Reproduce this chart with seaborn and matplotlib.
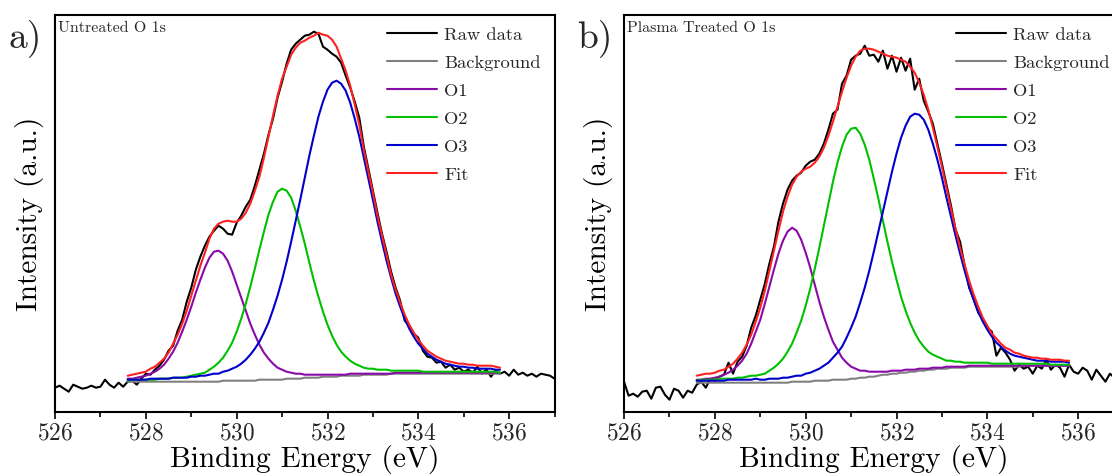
import numpy as np
import matplotlib
matplotlib.use('Agg')
import matplotlib.pyplot as plt
import seaborn as sns

# O 1s XPS spectra, intensity in arbitrary units
energy_raw = np.round(np.arange(526.0, 537.05, 0.1), 1)
energy_fit = np.round(np.arange(527.6, 535.85, 0.1), 1)

# a) untreated
raw_a = [24, 26, 23, 20, 27, 25, 23, 24, 26, 24, 25, 32, 27, 24, 29, 25,
         30, 31, 27, 33, 38, 37, 42, 46, 52, 61, 66, 81, 92, 110, 124, 142, 155, 166, 175, 181,
         186, 183, 178, 177, 189, 196, 205, 212, 226, 242, 258, 277, 293, 314, 330, 348, 362, 368, 372, 376,
         377, 380, 378, 365, 362, 358, 355, 349, 336, 324, 310, 294, 265, 243, 221, 199, 178, 160, 140,
         124, 111, 91, 86, 78, 74, 61, 55, 54, 49, 50, 44, 47, 42, 44, 40, 42, 39, 45, 38, 42, 35, 41, 38,
         40, 36, 42, 37, 39, 36, 38, 35, 38, 37, 36, 33]
bg_a = [30, 30, 30, 30, 30, 30, 30, 30, 30, 30, 30, 30, 30, 30, 30, 30, 30, 30, 30, 30, 30,
        31, 31, 31, 31, 31, 31, 31, 31, 32, 32, 32, 32, 32, 32, 33, 33, 33, 33, 34, 34, 34, 34,
        35, 35, 35, 35, 36, 36, 36, 36, 36, 37, 37, 37, 37, 37, 37,
        38, 38, 38, 38, 38, 38, 38, 38, 38, 38, 38, 38, 38, 38, 38, 38, 38, 38, 38, 38, 38, 38, 38, 38, 38]
o1_a = [33, 33, 34, 35, 36, 38, 40, 43, 47, 53, 60, 69, 80, 92, 105, 119, 132, 144, 154, 160,
        161, 158, 151, 140, 127, 114, 101, 88, 77, 67, 59, 53, 48, 44, 42, 40, 39, 38, 38, 37,
        37, 37, 37, 37, 37, 37, 37, 37, 37, 38, 38, 38, 38, 38, 38, 38, 38, 38, 38, 39,
        39, 39, 39, 39, 39, 39, 39, 39, 39, 39, 39, 39, 39, 39, 39, 39, 39, 39, 39, 39, 39, 39, 39]
o2_a = [31, 32, 32, 32, 32, 32, 32, 33, 33, 33, 34, 34, 34, 35, 36, 37, 38, 39, 42, 45,
        49, 54, 61, 69, 80, 93, 108, 125, 143, 162, 180, 197, 210, 220, 223, 221, 214, 201, 185, 168,
        149, 131, 115, 100, 87, 76, 67, 60, 55, 51, 48, 46, 44, 43, 43, 42, 42, 42, 41, 41,
        41, 41, 41, 41, 41, 40, 40, 40, 40, 40, 40, 40, 40, 40, 40, 40, 40, 40, 40, 40, 40, 40, 39]
o3_a = [32, 32, 32, 32, 32, 33, 33, 33, 33, 33, 34, 34, 34, 34, 35, 35, 36, 36, 37, 38,
        38, 40, 41, 43, 45, 48, 52, 57, 63, 70, 79, 89, 102, 116, 132, 150, 170, 191, 212, 234,
        256, 276, 295, 310, 322, 329, 331, 328, 321, 309, 293, 275, 254, 233, 212, 190, 170, 151, 134, 118,
        105, 93, 83, 75, 68, 63, 58, 55, 52, 50, 48, 47, 46, 45, 45, 44, 44, 43, 43, 43, 43, 42, 42]
fit_a = [36, 37, 38, 39, 40, 43, 45, 49, 53, 59, 68, 77, 88, 101, 116, 131, 146, 159, 173, 183,
         188, 190, 191, 190, 190, 193, 199, 208, 221, 235, 254, 275, 296, 316, 333, 345, 357, 364, 369, 371,
         374, 376, 379, 377, 376, 372, 365, 353, 341, 326, 307, 287, 262, 240, 219, 196, 176, 157, 137, 122,
         109, 97, 87, 79, 72, 66, 61, 58, 55, 53, 51, 50, 49, 48, 48, 47, 47, 46, 46, 46, 46, 45, 44]

# b) plasma treated
raw_b = [30, 16, 18, 15, 20, 21, 13, 24, 25, 17, 12, 23, 21, 14, 21, 19,
         27, 30, 24, 33, 31, 35, 37, 49, 38, 50, 55, 66, 84, 96, 112, 128, 148, 165, 190, 208,
         222, 231, 236, 239, 246, 250, 252, 258, 268, 282, 298, 302, 328, 336, 352, 356, 358, 366, 356, 357,
         350, 361, 343, 356, 340, 354, 341, 353, 322, 333, 311, 300, 288, 268, 248, 227, 206,
         182, 170, 146, 124, 112, 99, 92, 84, 80, 56, 64, 59, 52, 41, 47, 43, 45, 38, 46, 43, 52, 42, 47, 44, 35, 47,
         40, 38, 44, 41, 32, 42, 36, 30, 38, 34, 36, 32]
bg_b = [29, 29, 29, 29, 29, 29, 29, 29, 29, 29, 29, 29, 29, 29, 29, 29, 29, 29, 29, 29, 29,
        30, 30, 30, 30, 30, 31, 31, 31, 31, 32, 32, 32, 32, 33, 33, 34, 34, 35, 35,
        36, 37, 37, 38, 38, 39, 39, 40, 40, 41, 41, 42, 42, 43, 43, 43, 44, 44, 44, 44,
        45, 45, 45, 45, 45, 45, 45, 45, 45, 45, 45, 45, 46, 46, 46, 46, 46, 46, 46, 46, 46, 46, 46]
o1_b = [32, 32, 33, 33, 34, 35, 37, 39, 42, 46, 51, 58, 68, 80, 92, 108, 125, 142, 158, 171,
        180, 184, 181, 172, 159, 144, 127, 110, 95, 82, 70, 62, 54, 49, 45, 43, 41, 41, 40, 40,
        40, 40, 40, 41, 41, 41, 42, 42, 42, 43, 43, 43, 44, 44, 44, 45, 45, 45, 45, 45,
        46, 46, 46, 46, 46, 46, 46, 46, 46, 46, 46, 46, 46, 46, 46, 46, 46, 46, 46, 46, 46, 46, 46]
o2_b = [31, 32, 32, 32, 32, 33, 33, 33, 33, 34, 34, 35, 36, 36, 37, 38, 41, 44, 48, 53,
        60, 68, 79, 91, 106, 123, 143, 164, 186, 208, 230, 249, 265, 277, 283, 284, 278, 267, 252, 233,
        213, 191, 170, 150, 132, 115, 101, 89, 79, 71, 65, 60, 57, 55, 53, 51, 51, 50, 50, 49,
        49, 49, 49, 49, 49, 48, 48, 48, 48, 48, 48, 48, 48, 48, 48, 48, 48, 48, 47, 47, 47, 47, 47]
o3_b = [31, 31, 31, 31, 31, 31, 31, 32, 32, 32, 32, 32, 32, 33, 32, 32, 33, 33, 33, 34,
        34, 35, 36, 36, 38, 39, 41, 43, 46, 49, 54, 59, 65, 74, 84, 95, 109, 124, 141, 160,
        180, 200, 220, 240, 258, 274, 286, 295, 298, 297, 292, 282, 268, 252, 234, 214, 195, 176, 158, 141,
        125, 112, 100, 90, 82, 75, 69, 65, 61, 58, 56, 55, 54, 53, 52, 51, 51, 51, 50, 50, 50, 50, 49]
fit_b = [36, 37, 38, 38, 39, 41, 42, 45, 48, 53, 59, 67, 77, 90, 104, 121, 141, 161, 181, 200,
         215, 227, 235, 240, 243, 245, 249, 255, 264, 276, 290, 305, 320, 334, 346, 355, 361, 363, 363, 362,
         360, 358, 356, 355, 354, 352, 350, 345, 339, 329, 317, 302, 284, 265, 245, 224, 203, 183, 164, 147,
         131, 117, 105, 94, 86, 78, 73, 68, 64, 62, 59, 58, 56, 55, 54, 54, 53, 53, 52, 52, 52, 51, 51]

panels = [
    ('a)', 'Untreated O 1s', raw_a, bg_a, o1_a, o2_a, o3_a, fit_a),
    ('b)', 'Plasma Treated O 1s', raw_b, bg_b, o1_b, o2_b, o3_b, fit_b),
]
comp_colors = ['#8a0aa8', '#00c000', '#0000cc']

sns.set_theme(style='ticks')
plt.rcParams['font.family'] = ['cmr10', 'DejaVu Serif']
plt.rcParams['axes.formatter.use_mathtext'] = True
plt.rcParams['mathtext.fontset'] = 'cm'

fig = plt.figure(figsize=(11.12, 4.76), dpi=100)
axes = [fig.add_axes([0.0495, 0.1351, 0.4492, 0.8334]), fig.add_axes([0.5612, 0.1351, 0.4492, 0.8334])]
letter_x = [9, 577]

for ax, lx, (letter, title, raw, bg, o1, o2, o3, fit) in zip(axes, letter_x, panels):
    sns.lineplot(x=energy_raw, y=raw, ax=ax, color='black', lw=1.5, label='Raw data', sort=False)
    sns.lineplot(x=energy_fit, y=bg, ax=ax, color='#808080', lw=1.5, label='Background', sort=False)
    for comp, col, lab in zip([o1, o2, o3], comp_colors, ['O1', 'O2', 'O3']):
        sns.lineplot(x=energy_fit, y=comp, ax=ax, color=col, lw=1.5, label=lab, sort=False)
    sns.lineplot(x=energy_fit, y=fit, ax=ax, color='#ff2020', lw=1.5, label='Fit', sort=False)

    ax.set_xlim(526, 537)
    ax.set_ylim(0, 396.7)
    ax.set_xticks(range(526, 538, 2))
    ax.set_xticks(range(527, 538, 2), minor=True)
    ax.set_yticks([])
    ax.tick_params(axis='x', which='major', length=5, width=1.2, direction='out', labelsize=16.8, pad=3, color='black')
    ax.tick_params(axis='x', which='minor', length=3.5, width=1.2, direction='out', color='black')
    for s in ax.spines.values():
        s.set_linewidth(1.5)
        s.set_color('black')
    ax.set_xlabel('Binding Energy (eV)', fontsize=21.2, labelpad=0, color='black')
    ax.set_ylabel('Intensity (a.u.)', fontsize=21.2, labelpad=8, color='black')
    ax.text(0.006, 0.985, title, fontsize=11.5, va='top', ha='left', transform=ax.transAxes)
    fig.text(lx / 1112, 1 - 46.7 / 476, letter, fontsize=27, va='baseline', ha='left')
    ax.legend(loc='upper left', bbox_to_anchor=(0.665, 0.97), frameon=False, fontsize=13.3,
              handlelength=2.7, handletextpad=0.4, labelspacing=0.65, borderpad=0, borderaxespad=0)

fig.savefig('out.png', dpi=100)
